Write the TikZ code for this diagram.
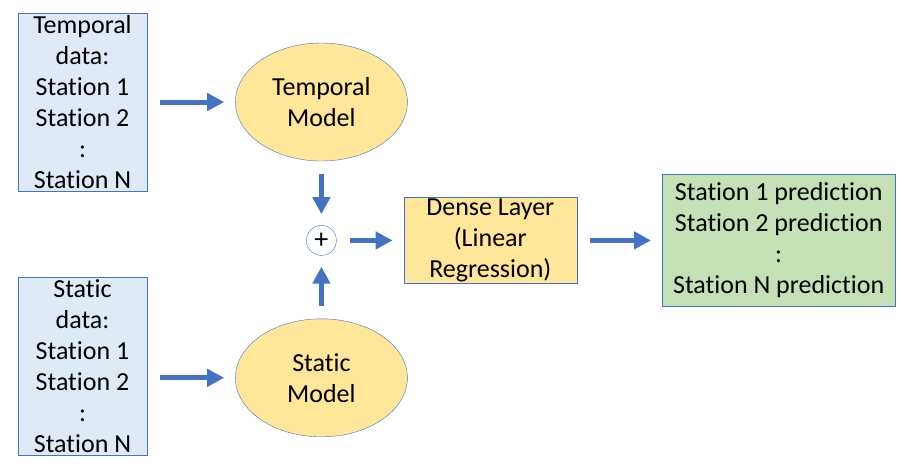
\documentclass[tikz,border=0pt]{standalone}
\usepackage{fontspec}
\setmainfont{Carlito}[Ligatures={NoCommon,NoRare,NoContextual}]
\usetikzlibrary{arrows.meta,positioning,shapes.geometric}
\definecolor{flowblue}{HTML}{4472C4}
\definecolor{datablue}{HTML}{DEEBF7}
\definecolor{modelyellow}{HTML}{FFE699}
\definecolor{predgreen}{HTML}{C5E0B4}

\begin{document}
\begin{tikzpicture}[x=1pt,y=-1pt,font=\fontsize{26}{31}\selectfont,
  databox/.style={draw=flowblue,fill=datablue,minimum width=129pt,minimum height=178pt,inner sep=0pt,align=center},
  model/.style={draw=flowblue,fill=modelyellow,ellipse,minimum width=172pt,minimum height=118pt,inner sep=0pt,align=center},
  layerbox/.style={draw=flowblue,fill=modelyellow,minimum width=173pt,minimum height=86pt,inner sep=0pt,align=center},
  predbox/.style={draw=flowblue,fill=predgreen,minimum width=233pt,minimum height=132pt,inner sep=0pt,align=center},
  sumnode/.style={draw=flowblue,fill=white,circle,minimum size=30pt,inner sep=0pt,font=\fontsize{28}{28}\selectfont},
  flow/.style={flowblue,line width=5pt,-{Triangle[length=17pt,width=17pt]},shorten <=13pt,shorten >=11pt}]
\useasboundingbox (0,0) rectangle (905,467);
\node[databox] (tdata) at (82.5,102) {Temporal\\data:\\Station 1\\Station 2\\:\\Station N};
\node[model,right=88pt of tdata] (tmodel) {Temporal\\Model};
\node[sumnode,below=64pt of tmodel] (plus) {+};
\node[model,below=63pt of plus] (smodel) {Static\\Model};
\node[databox] (sdata) at (82.5,366) {Static\\data:\\Station 1\\Station 2\\:\\Station N};
\node[layerbox,right=67pt of plus] (dense) {Dense Layer\\(Linear\\Regression)};
\node[predbox,right=85pt of dense] (pred) {Station 1 prediction\\Station 2 prediction\\:\\Station N prediction};
\draw[flow] (tdata) -- (tmodel);
\draw[flow] (sdata.east |- smodel) -- (smodel);
\draw[flow] (tmodel) -- (plus);
\draw[flow] (smodel) -- (plus);
\draw[flow] (plus) -- (dense);
\draw[flow] (dense) -- (pred);
\end{tikzpicture}
\end{document}
